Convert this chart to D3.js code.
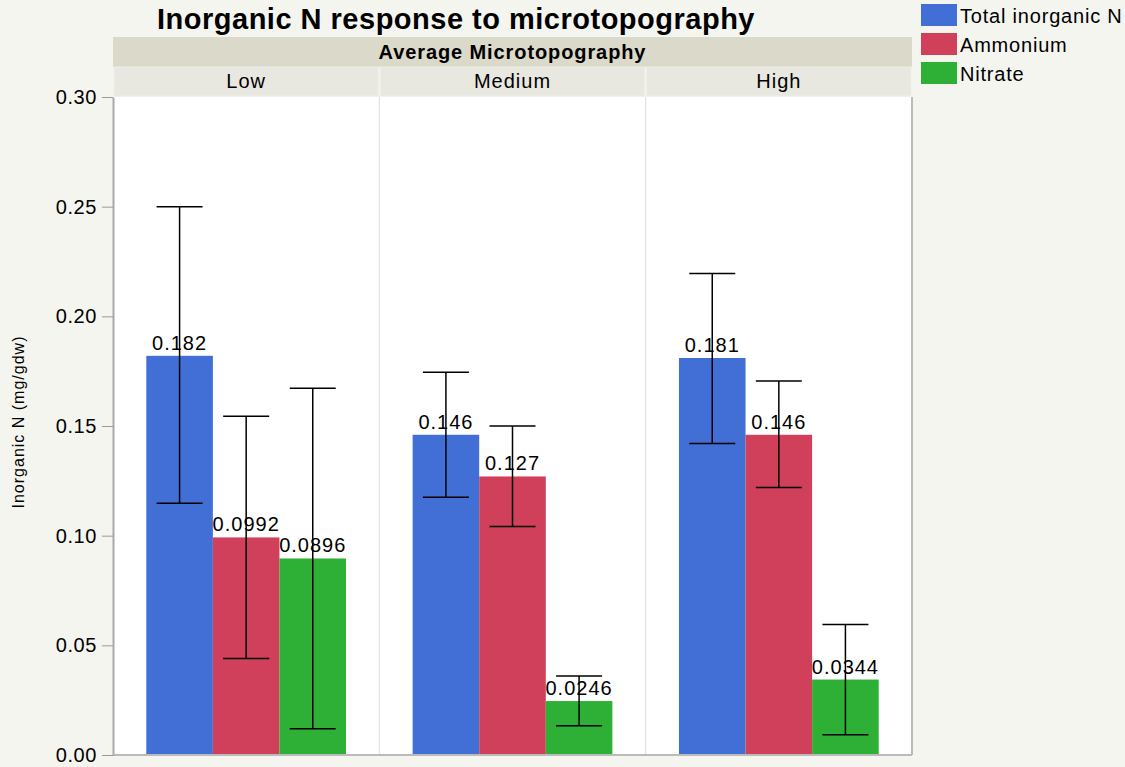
<!DOCTYPE html>
<html>
<head>
<meta charset="utf-8">
<script src="https://cdn.jsdelivr.net/npm/d3@7"></script>
<style>
  body { margin: 0; background: #f5f5f0; }
  svg { display: block; font-family: "Liberation Sans", Arial, sans-serif; }
</style>
</head>
<body>
<svg width="1125" height="767"></svg>
<script>
// chart data
var levels = ["Low", "Medium", "High"];
var series = ["Total inorganic N", "Ammonium", "Nitrate"];
var colors = ["#416fd5", "#d0405a", "#2db035"];
var means = [
    [0.182, 0.0992, 0.0896],
    [0.146, 0.127, 0.0246],
    [0.181, 0.146, 0.0344]
];
var errLow = [
    [0.1148, 0.0440, 0.0120],
    [0.1175, 0.1042, 0.0133],
    [0.1420, 0.1220, 0.0092]
];
var errHigh = [
    [0.2500, 0.1545, 0.1672],
    [0.1745, 0.1500, 0.0360],
    [0.2195, 0.1705, 0.0595]
];
var labels = [
    ["0.182", "0.0992", "0.0896"],
    ["0.146", "0.127", "0.0246"],
    ["0.181", "0.146", "0.0344"]
];
var yTicks = [0, 0.05, 0.10, 0.15, 0.20, 0.25, 0.30];

var svg = d3.select("svg"),
    margin = { top: 97, right: 213, bottom: 12, left: 113 },
    width = 1125 - margin.left - margin.right,
    height = 767 - margin.top - margin.bottom;

var g = svg.append("g")
    .attr("transform", "translate(" + margin.left + "," + margin.top + ")");

var y = d3.scaleLinear().domain([0, 0.30]).range([height, 0]);

var x0 = d3.scaleBand().domain(levels).range([0, width]).padding(0);
var x1 = d3.scaleBand().domain(series).range([0, x0.bandwidth()]).paddingOuter(0.5).paddingInner(0);

// plot background
g.append("rect")
    .attr("width", width).attr("height", height)
    .attr("fill", "#fff");

// panel separators
g.selectAll(".sep").data(levels.slice(1)).enter().append("line")
    .attr("x1", function(d) { return x0(d); })
    .attr("x2", function(d) { return x0(d); })
    .attr("y1", 0).attr("y2", height)
    .attr("stroke", "#dcdcdc");

// header strips
var hdr = svg.append("g").attr("transform", "translate(" + margin.left + ",0)");
hdr.append("rect")
    .attr("x", 0).attr("y", 37).attr("width", width).attr("height", 30)
    .attr("fill", "#dbd9ca");
hdr.append("text")
    .attr("x", width / 2).attr("y", 59)
    .attr("text-anchor", "middle")
    .attr("font-size", 20).attr("font-weight", "bold")
    .attr("letter-spacing", 0.9)
    .text("Average Microtopography");

hdr.selectAll(".lvl").data(levels).enter().append("rect")
    .attr("x", function(d) { return x0(d) + 1; })
    .attr("y", 67)
    .attr("width", x0.bandwidth() - 2)
    .attr("height", 29)
    .attr("fill", "#e8e8e0")
    .attr("stroke", "#efefe8");
hdr.selectAll(".lvlt").data(levels).enter().append("text")
    .attr("x", function(d) { return x0(d) + x0.bandwidth() / 2; })
    .attr("y", 88)
    .attr("text-anchor", "middle")
    .attr("font-size", 20)
    .attr("letter-spacing", 1)
    .text(function(d) { return d; });

// bars
var groups = g.selectAll(".grp").data(levels).enter().append("g")
    .attr("transform", function(d) { return "translate(" + x0(d) + ",0)"; });

groups.each(function(lvl, i) {
    var grp = d3.select(this);
    series.forEach(function(s, j) {
        var cx = x1(s) + x1.bandwidth() / 2;
        grp.append("rect")
            .attr("x", x1(s))
            .attr("y", y(means[i][j]))
            .attr("width", x1.bandwidth())
            .attr("height", height - y(means[i][j]))
            .attr("fill", colors[j]);
        grp.append("text")
            .attr("x", cx)
            .attr("y", y(means[i][j]) - 6)
            .attr("text-anchor", "middle")
            .attr("font-size", 20)
            .attr("letter-spacing", 1)
            .text(labels[i][j]);
    });
    series.forEach(function(s, j) {
        var cx = x1(s) + x1.bandwidth() / 2;
        grp.append("line")
            .attr("x1", cx).attr("x2", cx)
            .attr("y1", y(errLow[i][j])).attr("y2", y(errHigh[i][j]))
            .attr("stroke", "#000").attr("stroke-width", 1.5);
        [errLow[i][j], errHigh[i][j]].forEach(function(v) {
            grp.append("line")
                .attr("x1", cx - 23).attr("x2", cx + 23)
                .attr("y1", y(v)).attr("y2", y(v))
                .attr("stroke", "#000").attr("stroke-width", 1.5);
        });
    });
});

// frame
g.append("line").attr("x1", width).attr("x2", width).attr("y1", 0).attr("y2", height)
    .attr("stroke", "#bbb").attr("stroke-width", 2);
g.append("line").attr("x1", 0).attr("x2", width).attr("y1", height).attr("y2", height)
    .attr("stroke", "#bbb").attr("stroke-width", 2);

// y axis
var yAxis = g.append("g")
    .call(d3.axisLeft(y).tickValues(yTicks).tickFormat(d3.format(".2f")).tickSize(11).tickPadding(5).tickSizeOuter(0));
yAxis.select(".domain").attr("stroke", "#aaa").attr("stroke-width", 2);
yAxis.selectAll(".tick line").attr("stroke", "#999");
yAxis.selectAll(".tick text").attr("font-size", 20).attr("fill", "#000")
    .attr("letter-spacing", 0.6)
    .attr("font-family", "Liberation Sans, Arial, sans-serif");

svg.append("text")
    .attr("transform", "translate(24,422) rotate(-90)")
    .attr("text-anchor", "middle")
    .attr("font-size", 16)
    .attr("letter-spacing", 1)
    .text("Inorganic N (mg/gdw)");

// title
svg.append("text")
    .attr("x", 456).attr("y", 29)
    .attr("text-anchor", "middle")
    .attr("font-size", 29).attr("font-weight", "bold")
    .attr("letter-spacing", 0.5)
    .text("Inorganic N response to microtopography");

// legend
var legend = svg.append("g").attr("transform", "translate(921,4)");
series.forEach(function(s, j) {
    legend.append("rect")
        .attr("x", 0).attr("y", j * 29)
        .attr("width", 36).attr("height", 22)
        .attr("fill", colors[j]);
    legend.append("text")
        .attr("x", 39).attr("y", j * 29 + 19)
        .attr("font-size", 20)
        .attr("letter-spacing", 0.8)
        .text(s);
});
</script>
</body>
</html>
